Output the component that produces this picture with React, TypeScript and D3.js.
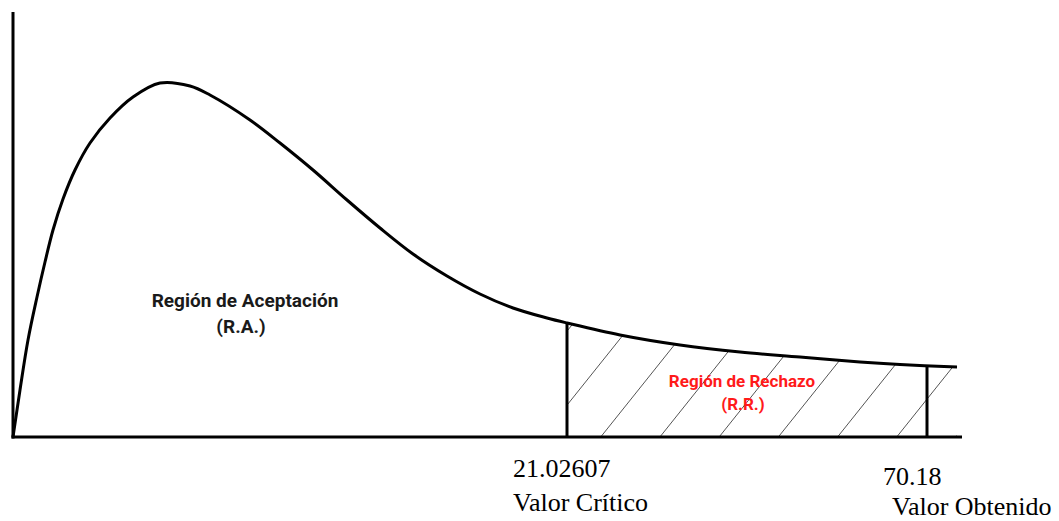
import { useEffect, useRef } from 'react';
import * as d3 from 'd3';

const [width, height] = [1059, 521];

// curve (x, density) in arbitrary units
const curveX = [0, 0.7, 1.5, 2.4, 3.2, 4.0, 5.0, 6.2, 7.7, 9.7, 12.0, 14.7, 17.7, 19.7, 23.7, 26.7, 30.0, 33.4, 36.7, 40.0, 43.4, 46.7, 50.0, 53.4, 55.4, 60.7, 66.7, 72.7, 78.7, 84.7, 88.7, 94.4];
const curveY = [0, 4.7, 9.7, 14.0, 17.5, 20.7, 23.8, 26.7, 29.4, 31.9, 34.0, 35.4, 35.1, 34.2, 31.7, 29.4, 26.7, 23.7, 20.9, 18.3, 16.1, 14.3, 12.9, 11.9, 11.4, 10.2, 9.2, 8.5, 8.0, 7.5, 7.25, 7.0];

const critPos = 55.4;
const obtPos = 91.4;
const critLabel = '21.02607';
const obtLabel = '70.18';

function App() {
    const node = useRef<SVGSVGElement>(null);
    useEffect(() => {
        if (!node.current) return;
        const svg = d3.select(node.current);
        svg.selectAll('*').remove();

        const x = d3.scaleLinear().domain([0, 95]).range([13, 963]);
        const y = d3.scaleLinear().domain([0, 42.5]).range([437, 12]);

        const pts: [number, number][] = curveX.map((v, i) => [v, curveY[i]]);
        const yAt = (v: number) => {
            const i = d3.bisector((p: [number, number]) => p[0]).left(pts, v);
            const a = pts[Math.max(0, i - 1)], b = pts[Math.min(pts.length - 1, i)];
            if (a[0] === b[0]) return a[1];
            return a[1] + (b[1] - a[1]) * (v - a[0]) / (b[0] - a[0]);
        };

        const smooth = d3.curveCatmullRom.alpha(0.5);
        const line = d3.line<[number, number]>()
            .x(d => x(d[0])).y(d => y(d[1]))
            .curve(smooth);

        // clip region for the hatching: area under curve right of critical value
        const rej = pts.filter(p => p[0] > critPos);
        rej.unshift([critPos, yAt(critPos)]);
        const area = d3.area<[number, number]>()
            .x(d => x(d[0])).y0(y(0)).y1(d => y(d[1]))
            .curve(smooth);
        svg.append('defs').append('clipPath').attr('id', 'rr')
            .append('path').attr('d', area(rej));

        const hatch = svg.append('g').attr('clip-path', 'url(#rr)');
        const slope = 0.8; // dx per dy in pixels
        for (let k = -1; k < 9; k++) {
            const b = x(52.85 + 5.92 * k);
            hatch.append('line')
                .attr('x1', b).attr('y1', y(0))
                .attr('x2', b + slope * 120).attr('y2', y(0) - 120)
                .attr('stroke', '#555').attr('stroke-width', 1);
        }

        // axes
        svg.append('line').attr('x1', x(0)).attr('x2', x(0))
            .attr('y1', y(42.5)).attr('y2', y(0) + 1.5)
            .attr('stroke', '#000').attr('stroke-width', 3);
        svg.append('line').attr('x1', x(0) - 1.5).attr('x2', x(94.9))
            .attr('y1', y(0)).attr('y2', y(0))
            .attr('stroke', '#000').attr('stroke-width', 3);

        // critical and obtained value lines
        [critPos, obtPos].forEach(v => {
            svg.append('line').attr('x1', x(v)).attr('x2', x(v))
                .attr('y1', y(0)).attr('y2', y(yAt(v)))
                .attr('stroke', '#000').attr('stroke-width', 3);
        });

        svg.append('path').attr('d', line(pts))
            .attr('fill', 'none').attr('stroke', '#000').attr('stroke-width', 3)
            .attr('stroke-linejoin', 'round');

        const bold = (t: string, cx: number, by: number, size: number, color: string) =>
            svg.append('text').text(t).attr('x', cx).attr('y', by)
                .attr('text-anchor', 'middle').attr('font-family', 'Roboto, sans-serif')
                .attr('font-weight', 700).attr('font-size', size).attr('fill', color);

        bold('Región de Aceptación', 245, 307, 19, '#1a1a1a');
        bold('(R.A.)', 241, 333, 19, '#1a1a1a');
        bold('Región de Rechazo', 742, 387, 17, '#ff1a1a');
        bold('(R.R.)', 743, 410, 17, '#ff1a1a');

        const serif = (t: string, sx: number, by: number) =>
            svg.append('text').text(t).attr('x', sx).attr('y', by)
                .attr('font-family', '"Liberation Serif", "Times New Roman", serif')
                .attr('font-size', 26).attr('fill', '#000');

        serif(critLabel, x(critPos) - 54, 477);
        serif('Valor Crítico', x(critPos) - 54, 511);
        serif(obtLabel, x(obtPos) - 44, 485);
        serif('Valor Obtenido', x(obtPos) - 35, 515);
    }, [node]);

    return (
        <svg ref={node} width={width} height={height}
            style={{ position: 'absolute', left: 0, top: 0, background: '#fff' }}></svg>
    );
}

export default App;
